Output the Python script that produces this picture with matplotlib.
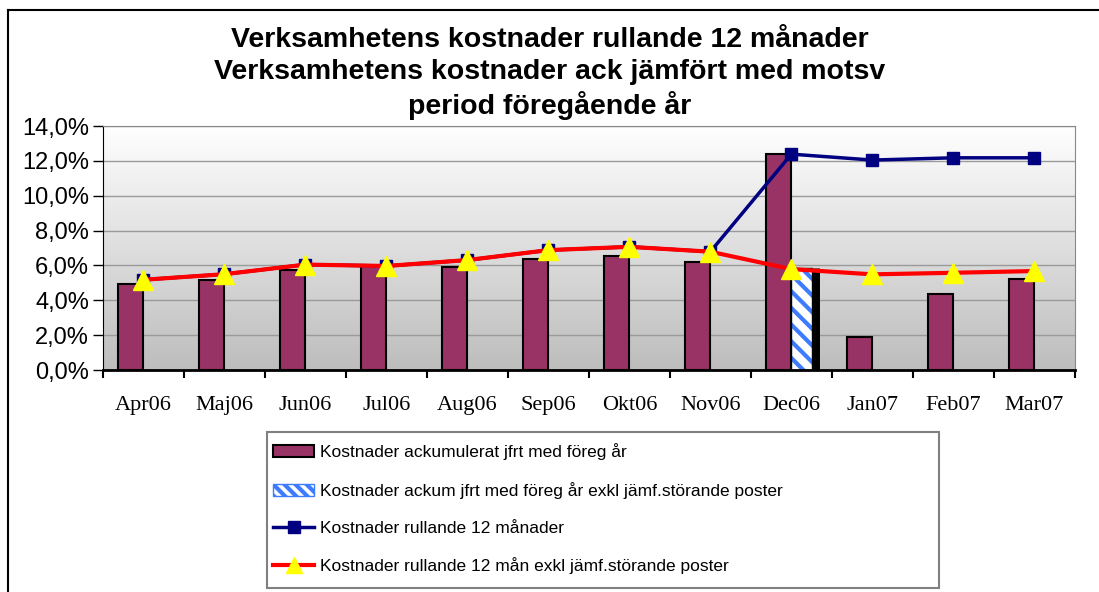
import numpy as np
import matplotlib
matplotlib.use("Agg")
import matplotlib.pyplot as plt
from matplotlib.ticker import FuncFormatter
from matplotlib.lines import Line2D
from matplotlib.patches import Patch, Rectangle
from matplotlib import font_manager

months = ["Apr06", "Maj06", "Jun06", "Jul06", "Aug06", "Sep06",
          "Okt06", "Nov06", "Dec06", "Jan07", "Feb07", "Mar07"]
ack = [4.93, 5.16, 5.74, 5.95, 5.93, 6.40, 6.54, 6.18, 12.39, 1.91, 4.36, 5.24]
ack_exkl = [None, None, None, None, None, None, None, None, 5.83, None, None, None]
rull12 = [5.18, 5.50, 6.05, 5.97, 6.31, 6.88, 7.07, 6.79, 12.39, 12.05, 12.18, 12.18]
rull12_exkl = [5.18, 5.50, 6.05, 5.97, 6.31, 6.88, 7.07, 6.79, 5.79, 5.49, 5.58, 5.68]

plt.rcParams["font.family"] = "Liberation Sans"
plt.rcParams["hatch.linewidth"] = 3

names = {f.name for f in font_manager.fontManager.ttflist}
if "Liberation Sans Narrow" in names:
    leg_font = {"family": "Liberation Sans Narrow", "size": 14.5}
else:
    leg_font = {"family": "Liberation Sans", "size": 12.5}

fig = plt.figure(figsize=(10.99, 5.92), dpi=100)
ax = fig.add_axes([0.0937, 0.375, 0.8843, 0.412])

x = np.arange(len(months))
w = 0.31

# background gradient
grad = np.linspace(1, 0, 256).reshape(-1, 1)
ax.imshow(grad, extent=[0, 1, 0, 1], transform=ax.transAxes, aspect="auto",
          cmap=matplotlib.colors.LinearSegmentedColormap.from_list("g", ["#bdbdbd", "#ffffff"]),
          zorder=0)

ax.bar(x - w / 2, ack, w, color="#993366", edgecolor="black", linewidth=1.5, zorder=2)
xe = np.array([i for i, v in enumerate(ack_exkl) if v is not None])
ve = [v for v in ack_exkl if v is not None]
we = 0.26
ax.bar(xe + we / 2, ve, we, color="white", edgecolor="#3d7bff", hatch="\\\\", linewidth=0, zorder=2)
ax.bar(xe + we / 2, ve, we, color="none", edgecolor="black", linewidth=1, zorder=2)
ax.vlines(xe + we + 0.043, 0, ve, color="black", lw=5, zorder=2)

ax.plot(x, rull12, color="#000080", lw=2.5, marker="s", markersize=8, zorder=3)
ax.plot(x, rull12_exkl, color="#ff0000", lw=3, marker="^", markersize=15,
        markerfacecolor="#ffff00", markeredgecolor="#ffff00", zorder=4)

ax.set_xlim(-0.5, len(months) - 0.5)
ax.set_ylim(0, 14)
ax.set_yticks(np.arange(0, 15, 2))
ax.yaxis.set_major_formatter(FuncFormatter(lambda v, p: f"{v:.1f}%".replace(".", ",")))
ax.grid(axis="y", color="#9a9a9a", lw=1, zorder=1)
ax.set_axisbelow(True)
ax.set_xticks(x)
ax.set_xticklabels(months, fontfamily="Liberation Serif", fontsize=16)
ax.set_xticks(np.arange(-0.5, len(months)), minor=True)
ax.tick_params(axis="x", which="major", length=0, pad=19)
ax.tick_params(axis="x", which="minor", length=6, width=1.5, direction="out")
ax.tick_params(axis="y", labelsize=17, length=7, width=1, pad=3)
for s in ["top", "right"]:
    ax.spines[s].set_color("#888888")
ax.spines["left"].set_color("black")
ax.spines["bottom"].set_linewidth(2)

fig.text(0.5, 1 - 27 / 592, "Verksamhetens kostnader rullande 12 månader\n"
         "Verksamhetens kostnader ack jämfört med motsv\nperiod föregående år",
         ha="center", va="top", fontsize=20.5, fontweight="bold", linespacing=1.28)

handles = [
    Patch(facecolor="#993366", edgecolor="black", linewidth=1.5),
    Patch(facecolor="white", edgecolor="#3d7bff", hatch="\\\\\\"),
    Line2D([], [], color="#000080", lw=2.5, marker="s", markersize=8),
    Line2D([], [], color="#ff0000", lw=3, marker="^", markersize=12,
           markerfacecolor="#ffff00", markeredgecolor="#ffff00"),
]
labels = ["Kostnader ackumulerat jfrt med föreg år",
          "Kostnader ackum jfrt med föreg år exkl jämf.störande poster",
          "Kostnader rullande 12 månader",
          "Kostnader rullande 12 mån exkl jämf.störande poster"]
fig.add_artist(Rectangle((267 / 1099, 1 - 588 / 592), 672 / 1099, 156 / 592,
                         transform=fig.transFigure, facecolor="white",
                         edgecolor="#808080", lw=1.5))
fs = leg_font["size"] / 12.5
leg = fig.legend(handles, labels, loc="upper left", bbox_to_anchor=(268 / 1099, 1 - 438 / 592),
                 prop=leg_font, frameon=False,
                 handlelength=2.35 / fs, handletextpad=0.35 / fs, labelspacing=1.25 / fs,
                 borderaxespad=0, borderpad=0.3 / fs)

# outer chart frame
fig.add_artist(Line2D([0.0075, 0.0075], [0, 0.983], color="black", lw=1.5, transform=fig.transFigure))
fig.add_artist(Line2D([0.0075, 1], [0.983, 0.983], color="black", lw=1.5, transform=fig.transFigure))

fig.savefig("out.png", dpi=100)
